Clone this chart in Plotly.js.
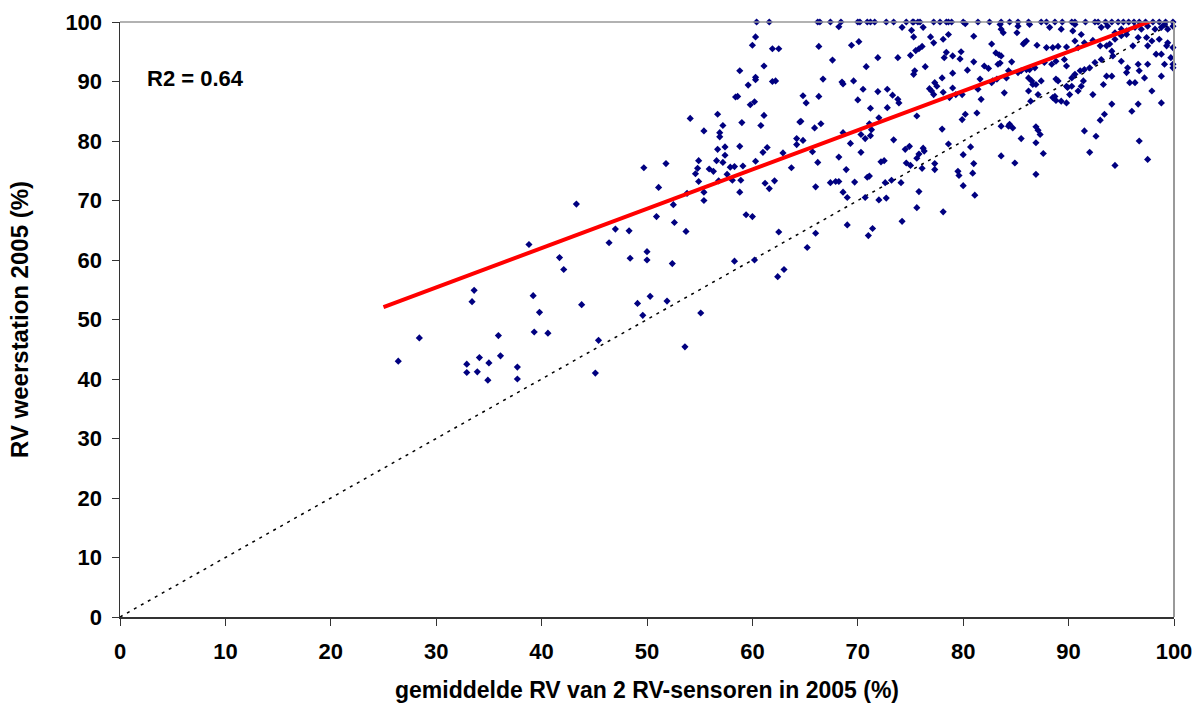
<!DOCTYPE html>
<html>
<head>
<meta charset="utf-8">
<script src="https://cdn.plot.ly/plotly-3.0.1.min.js"></script>
<style>html,body{margin:0;padding:0;background:#fff;}#chart{width:1204px;height:706px;}</style>
</head>
<body>
<div id="chart"></div>
<script>
// Scatter points: [gemiddelde RV sensoren, RV weerstation]
const pointsLow = [
[43.3,69.4],[38.8,62.6],[47.0,65.2],[46.4,62.9],[41.7,60.4],[42.1,58.4],[33.6,54.9],[33.4,53.0],[39.2,54.0],[39.8,51.2],[43.8,52.5],[28.4,46.9],[26.4,43.0],[35.9,47.3],[39.3,47.9],[40.6,47.7],[45.4,46.5],[36.1,43.9],[32.9,42.5],[34.1,43.6],[35.0,42.7],[32.9,41.1],[33.9,41.2],[34.9,39.8],[37.7,42.0],[37.7,40.0],[45.1,41.0]
];
const pointsMid = [
[51.1,72.2],[48.3,64.9],[50.9,67.3],[52.5,69.3],[52.6,66.3],[53.7,64.8],[53.8,71.2],[55.4,71.4],[55.4,70.0],[54.9,73.2],[56.8,73.3],[58.1,73.4],[58.9,73.4],[58.8,71.4],[61.2,72.9],[61.6,72.0],[62.1,73.3],[59.4,67.6],[60.0,67.3],[50.0,61.4],[48.4,60.3],[50.0,60.0],[52.4,59.4],[62.5,64.7],[58.3,59.8],[60.2,60.0],[63.0,58.4],[62.4,57.2],[50.3,53.9],[49.1,52.7],[51.9,53.1],[49.6,50.7],[55.1,51.1],[53.6,45.4],
[60.4,100],[61.6,100],[60.3,97.5],[60.0,96.1],[61.9,95.5],[62.5,95.5],[61.1,92.6],[58.8,91.8],[60.3,90.7],[60.3,90.3],[59.6,89.4],[61.9,90.0],[62.2,90.1],[58.4,87.4],[58.6,87.5],[59.8,86.1],[60.2,86.6],[61.1,84.3],[54.1,83.8],[56.7,84.5],[59.0,83.1],[57.2,82.6],[60.8,82.6],[55.4,81.7],[56.9,81.4],[56.9,80.7],[56.7,78.6],[57.4,79.0],[58.8,79.1],[61.0,78.1],[61.4,78.9],[62.9,78.0],[64.2,80.4],[64.2,79.4],[64.5,83.2],[54.9,76.7],[56.6,76.7],[57.2,76.4],[57.4,77.6],[54.8,75.4],[54.6,74.5],[55.9,75.3],[56.3,74.9],[57.9,75.6],[58.3,75.7],[59.1,75.8],[60.3,76.6],[57.6,74.4],[63.7,75.5],[51.8,76.2],[49.7,75.5]
];
const topRowX = [66.2,66.4,67.4,68.4,70.0,70.2,70.9,71.2,71.6,72.7,73.4,74.6,75.2,75.3,75.7,75.9,77.2,77.8,78.4,78.6,78.9,80.0,
81.4,82.5,83.6,84.4,85.2,86.2,87.4,87.9,88.7,89.4,90.3,90.6,91.6,92.5,92.8,93.5,94.1,94.7,95.2,95.7,96.2,96.7,97.3,98.0,98.6,99.2,99.9];
const pointsHigh = [
[68.2,99.2],[74.2,99.1],[75.1,98.6],[76.2,99.1],[80.2,99.7],[75.3,97.5],[76.9,97.5],[77.2,96.5],[78.1,97.1],[78.6,97.9],[70.1,96.7],[69.4,96.1],[66.3,95.9],[81.0,97.6],[76.1,95.9],[75.8,95.5],[75.5,95.2],[78.4,94.9],[78.2,94.0],[79.0,94.3],[79.8,95.0],[79.7,93.8],[75.0,94.4],[73.8,94.0],[71.9,94.0],[67.6,93.6],[81.0,93.3],[80.4,91.9],[76.4,92.5],[75.4,91.8],[75.3,91.2],[70.8,92.5],[78.0,90.6],[79.0,91.4],[66.7,90.4],[68.5,89.9],[68.6,89.6],[69.6,90.1],[77.3,89.8],[76.8,88.8],[77.0,88.4],[77.2,87.8],[77.5,89.2],[78.1,88.2],[79.0,88.9],[79.3,87.8],[79.9,87.8],[78.7,87.3],[70.5,88.7],[71.9,88.3],[72.8,88.7],[73.3,87.7],[73.8,87.0],[73.9,86.4],[70.0,86.9],[64.8,87.6],[65.1,86.4],[66.3,87.5],[71.2,85.5],[72.8,85.6],[81.3,84.7],[80.2,84.5],[79.9,83.6],[75.6,84.2],[64.6,83.3],[66.5,82.9],[65.9,82.2],[71.1,82.9],[71.3,81.9],[71.2,80.9],[72.0,83.9],[68.6,81.4],[70.3,81.1],[70.7,80.4],[69.3,79.6],[73.4,80.2],[64.8,80.1],[65.7,78.2],[66.2,76.4],[78.0,82.0],[78.6,79.5],[80.7,79.0],[74.5,78.6],[74.9,79.1],[75.8,77.8],[76.2,78.8],[76.3,78.3],[75.6,77.1],[74.6,76.3],[75.0,75.9],[76.1,75.4],[77.3,76.2],[77.3,75.2],[70.3,78.1],[68.2,77.3],[68.9,75.2],[72.2,76.5],[72.5,76.7],[80.0,77.7],[81.0,76.2],[79.5,74.9],[79.6,74.2],[80.9,74.6],[70.9,73.9],[71.1,74.1],[67.4,73.0],[67.9,73.2],[68.2,73.2],[69.7,73.1],[72.6,73.0],[73.2,73.4],[74.1,73.0],[66.0,72.3],[69.0,70.5],[70.7,70.5],[72.0,70.1],[72.7,70.4],[75.8,71.5],[75.6,68.8],[78.1,68.1],[80.0,72.5],[81.1,70.9],[68.6,71.4],
[69.0,65.9],[66.0,64.5],[71.4,65.3],[71.0,64.1],[74.2,66.5],[65.2,62.1]
];
const pointsTop = [
[82.7,96.3],[83.1,94.8],[83.4,94.5],[83.6,94.3],[83.3,92.9],[83.5,93.1],[82.0,92.6],[82.4,92.2],[84.6,93.3],[84.3,91.8],[84.1,90.6],[85.8,96.5],[86.0,96.8],[85.7,96.3],[87.0,96.1],[87.9,95.7],[88.5,95.7],[89.0,95.9],[89.8,95.8],[90.6,96.8],[90.9,95.7],[91.5,96.5],[92.3,96.9],[93.0,96.0],[93.6,96.0],[93.9,96.3],[94.4,97.1],[95.0,97.7],[95.5,97.9],[96.1,96.0],[96.6,97.4],[97.4,97.4],[97.5,96.0],[97.9,96.8],[98.6,97.1],[99.3,96.0],[99.4,96.5],[99.9,95.7],[99.7,94.0],[99.9,92.3],[99.9,92.9],[99.1,92.9],[98.8,94.6],[98.3,94.6],[97.5,92.9],[96.6,92.9],[96.7,91.8],[97.2,90.6],[95.6,92.3],[95.5,91.5],[95.0,93.4],[94.2,94.3],[94.1,95.1],[93.1,93.7],[92.5,93.2],[92.0,92.3],[91.5,92.0],[91.1,91.8],[90.6,91.2],[90.3,90.6],[89.8,92.6],[89.6,93.7],[88.8,93.4],[88.4,92.9],[87.7,93.2],[86.8,92.3],[86.3,92.0],[86.0,92.0],[85.5,91.8],[85.2,91.5],[86.2,90.6],[86.5,90.1],[86.6,89.5],[87.4,90.1],[88.8,90.4],[89.0,90.1],[89.8,89.2],[90.3,89.2],[91.4,90.1],[91.2,89.2],[90.9,88.4],[89.9,89.0],[90.1,87.8],[92.3,87.8],[93.3,89.5],[93.6,90.9],[94.1,90.9],[95.8,89.8],[96.3,89.8],[97.9,88.4],[98.8,90.9],[98.8,86.4],[96.6,86.2],[96.0,85.0],[94.1,86.2],[93.4,84.5],[93.0,83.5],[91.5,81.7],[92.6,80.8],[92.0,78.1],[94.4,75.9],[97.5,76.9],[96.7,80.0],[88.5,87.3],[88.8,86.8],[89.3,86.7],[89.8,86.4],[88.7,87.5],[87.1,87.8],[86.4,86.7],[86.2,88.4],[86.9,89.5],[83.9,88.1],[81.7,87.0],[81.4,88.7],[81.6,90.4],[83.6,82.5],[84.3,82.5],[84.4,82.8],[84.7,82.2],[86.9,82.4],[87.1,81.8],[87.3,81.1],[85.5,80.4],[86.9,79.7],[83.6,77.5],[84.9,76.3],[87.6,77.9],[86.9,74.4],[82.7,89.8],[82.8,90.1],[83.2,90.4],
[83.5,99.6],[83.6,98.8],[83.8,98.2],[85.2,99.3],[85.1,98.2],[86.3,99.6],[88.2,99.1],[89.3,98.8],[90.6,99.6],[90.4,98.5],[91.2,97.9],[93.1,99.1],[93.7,99.3],[94.4,98.2],[95.0,98.8],[95.5,98.5],[96.3,99.1],[96.9,98.8],[97.5,99.3],[98.2,98.8],[98.8,99.1],[99.4,98.8],[99.1,99.6],[99.9,99.3]
];
// Linear trendline (R2 = 0.64) and 1:1 reference line
const trendX = [25, 100];
const trendY = [52.1, 101.6];
const diagX = [0, 100];
const diagY = [0, 100];
const tickVals = [0,10,20,30,40,50,60,70,80,90,100];

const allPts = pointsLow.concat(pointsMid, pointsHigh, pointsTop);
const xs = allPts.map(p => p[0]).concat(topRowX);
const ys = allPts.map(p => p[1]).concat(topRowX.map(() => 100));

const FAM = '"Liberation Sans", Arial, sans-serif';
const tickFnt = {family: FAM, size: 22, color: '#000', weight: 'bold'};
const xTitleFnt = {family: FAM, size: 23, color: '#000', weight: 'bold'};
const yTitleFnt = {family: FAM, size: 24, color: '#000', weight: 'bold'};
const annFnt = {family: FAM, size: 22, color: '#000', weight: 'bold'};

const traces = [
  {x: diagX, y: diagY, type: 'scatter', mode: 'lines', line: {color: '#000', width: 1.5, dash: '3px,5px'}, hoverinfo: 'skip', cliponaxis: true},
  {x: xs, y: ys, type: 'scatter', mode: 'markers', marker: {symbol: 'diamond', size: 5.5, color: '#000080', line: {width: 0}}, cliponaxis: false},
  {x: trendX, y: trendY, type: 'scatter', mode: 'lines', line: {color: '#ff0000', width: 4}, cliponaxis: true}
];

const layout = {
  width: 1204, height: 706,
  margin: {l: 120, r: 30, t: 22, b: 89},
  paper_bgcolor: '#fff', plot_bgcolor: '#fff',
  showlegend: false,
  font: tickFnt,
  xaxis: {
    range: [0, 100], tickvals: tickVals, ticktext: tickVals.map(String),
    showgrid: false, zeroline: false, showline: true, linecolor: '#333', linewidth: 1.5,
    ticks: 'outside', ticklen: 7, tickcolor: '#333', tickwidth: 1,
    ticklabelstandoff: 7,
    tickfont: tickFnt,
    title: {text: 'gemiddelde RV van 2 RV-sensoren in 2005 (%)', font: xTitleFnt, standoff: 19}
  },
  yaxis: {
    range: [0, 100], tickvals: tickVals, ticktext: tickVals.map(String),
    showgrid: false, zeroline: false, showline: true, linecolor: '#333', linewidth: 1.5,
    ticks: 'outside', ticklen: 7, tickcolor: '#333', tickwidth: 1,
    ticklabelstandoff: 5,
    tickfont: tickFnt,
    title: {text: 'RV weerstation 2005 (%)', font: yTitleFnt, standoff: 30}
  },
  shapes: [
    {type: 'line', xref: 'paper', yref: 'paper', x0: 0, x1: 1, y0: 1, y1: 1, line: {color: '#999', width: 1.5}},
    {type: 'line', xref: 'paper', yref: 'paper', x0: 1, x1: 1, y0: 0, y1: 1, line: {color: '#999', width: 2}}
  ],
  annotations: [
    {x: 2.4, y: 90.5, xref: 'x', yref: 'y', text: 'R2 = 0.64', showarrow: false, xanchor: 'left', yanchor: 'middle', font: annFnt}
  ]
};

Plotly.newPlot('chart', traces, layout, {displayModeBar: false, staticPlot: true});
</script>
</body>
</html>
